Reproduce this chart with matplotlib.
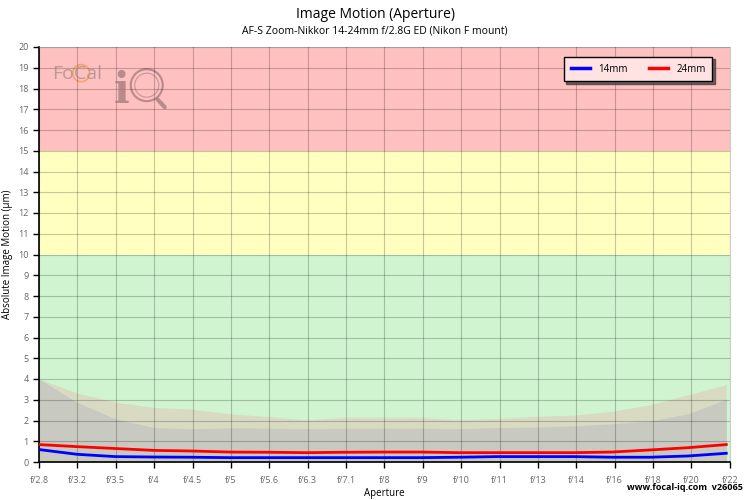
import numpy as np
import matplotlib
matplotlib.use('Agg')
import matplotlib.pyplot as plt
from matplotlib.patches import Ellipse

plt.rcParams['font.family'] = ['Open Sans', 'DejaVu Sans']

# aperture categories
apertures = ['f/2.8', 'f/3.2', 'f/3.5', 'f/4', 'f/4.5', 'f/5', 'f/5.6', 'f/6.3', 'f/7.1', 'f/8',
             'f/9', 'f/10', 'f/11', 'f/13', 'f/14', 'f/16', 'f/18', 'f/20', 'f/22']

# mean image motion per focal length
motion_14mm = [0.60, 0.37, 0.26, 0.24, 0.23, 0.21, 0.21, 0.21, 0.21, 0.21,
               0.21, 0.23, 0.26, 0.26, 0.26, 0.23, 0.23, 0.29, 0.42]
motion_24mm = [0.84, 0.74, 0.65, 0.56, 0.53, 0.48, 0.47, 0.45, 0.47, 0.48,
               0.48, 0.45, 0.45, 0.45, 0.45, 0.48, 0.58, 0.69, 0.84]

# upper envelope of the shaded ranges
range_14mm = [4.0, 2.87, 2.08, 1.66, 1.60, 1.65, 1.63, 1.60, 1.63, 1.63,
              1.63, 1.60, 1.66, 1.68, 1.74, 1.84, 1.98, 2.32, 3.03]
range_24mm = [4.0, 3.32, 2.89, 2.63, 2.55, 2.32, 2.19, 2.03, 2.15, 2.16,
              2.15, 2.03, 2.10, 2.20, 2.26, 2.44, 2.76, 3.24, 3.73]

# quality zones (lower, upper, colour)
zones = [(0, 10, '#d0f4d0'), (10, 15, '#ffffc0'), (15, 20, '#ffc0c0')]

x = np.arange(len(apertures)) * 0.995

fig = plt.figure(figsize=(7.5, 5), dpi=100)
ax = fig.add_axes([0.052, 0.076, 0.921, 0.830])
ax_w, ax_h = 0.921 * 750, 0.830 * 500

for lo, hi, col in zones:
    ax.axhspan(lo, hi, color=col, zorder=0, lw=0)

ax.fill_between(x, 0, range_24mm, color='#d8dbc2', lw=0, zorder=1)
ax.fill_between(x, 0, range_14mm, color='#c8c9c1', lw=0, zorder=1)

ax.grid(True, color='#000000', alpha=0.22, lw=0.8, zorder=2)
ax.set_axisbelow(False)

ax.plot(x, motion_14mm, color='#0000ff', lw=2, label='14mm', zorder=3)
ax.plot(x, motion_24mm, color='#ff0000', lw=2, label='24mm', zorder=3)

ax.set_xlim(0, len(apertures) - 1)
ax.set_ylim(0, 20)
ax.set_xticks(np.arange(len(apertures)))
ax.set_xticklabels(apertures)
ax.set_yticks(range(0, 21))
ax.tick_params(axis='both', labelsize=6.5, labelcolor='#666666', length=4, width=1, color='black')
ax.tick_params(axis='x', pad=6)

for side in ['top', 'right']:
    ax.spines[side].set_color('#cccccc')
for side in ['left', 'bottom']:
    ax.spines[side].set_linewidth(1.2)

ax.set_xlabel('Aperture', fontsize=7, labelpad=2)
ax.set_ylabel('Absolute Image Motion (µm)', fontsize=7, labelpad=4)

fig.text(0.5, 0.97, 'Image Motion (Aperture)', ha='center', va='center', fontsize=10)
fig.text(0.5, 0.938, 'AF-S Zoom-Nikkor 14-24mm f/2.8G ED (Nikon F mount)', ha='center', va='center', fontsize=7.5)
fig.text(0.99, 0.015, 'www.focal-iq.com  v26065', ha='right', va='bottom', fontsize=6.5, fontweight='bold')

leg = ax.legend(loc='upper right', ncol=2, fontsize=7, frameon=True, fancybox=False,
                shadow={'ox': 1.5, 'oy': -1.5, 'color': '#333333', 'alpha': 0.7},
                bbox_to_anchor=(0.982, 0.988), handlelength=2.0,
                columnspacing=2.2, borderpad=0.7, handletextpad=0.8)
leg.get_frame().set_edgecolor('black')
leg.get_frame().set_facecolor('#ffe2e2')
leg.get_frame().set_alpha(1)
leg.get_frame().set_linewidth(1)
for line in leg.get_lines():
    line.set_linewidth(2.5)

# watermark logo
ax.text(0.019, 0.935, 'FoCal', transform=ax.transAxes, fontsize=14, color='#a08888',
        alpha=0.7, va='center', ha='left')
ax.add_patch(Ellipse((0.061, 0.937), 2 * 8.5 / ax_w, 2 * 8.5 / ax_h, transform=ax.transAxes,
                     fill=False, ec='#f0a050', lw=1.2, alpha=0.8))
ax.text(0.108, 0.895, 'i', transform=ax.transAxes, fontsize=30, color='#a07878',
        alpha=0.75, va='center', ha='left', fontweight='bold', family='DejaVu Serif')
ax.add_patch(Ellipse((0.156, 0.908), 2 * 16 / ax_w, 2 * 16 / ax_h, transform=ax.transAxes,
                     fill=False, ec='#a07878', lw=1.5, alpha=0.75))
ax.add_patch(Ellipse((0.156, 0.908), 2 * 12 / ax_w, 2 * 12 / ax_h, transform=ax.transAxes,
                     fill=False, ec='#a07878', lw=0.8, alpha=0.6))
ax.plot([0.172, 0.182], [0.873, 0.855], transform=ax.transAxes, color='#a07878',
        lw=3, alpha=0.75, solid_capstyle='round')

fig.savefig('out.png', dpi=100)
